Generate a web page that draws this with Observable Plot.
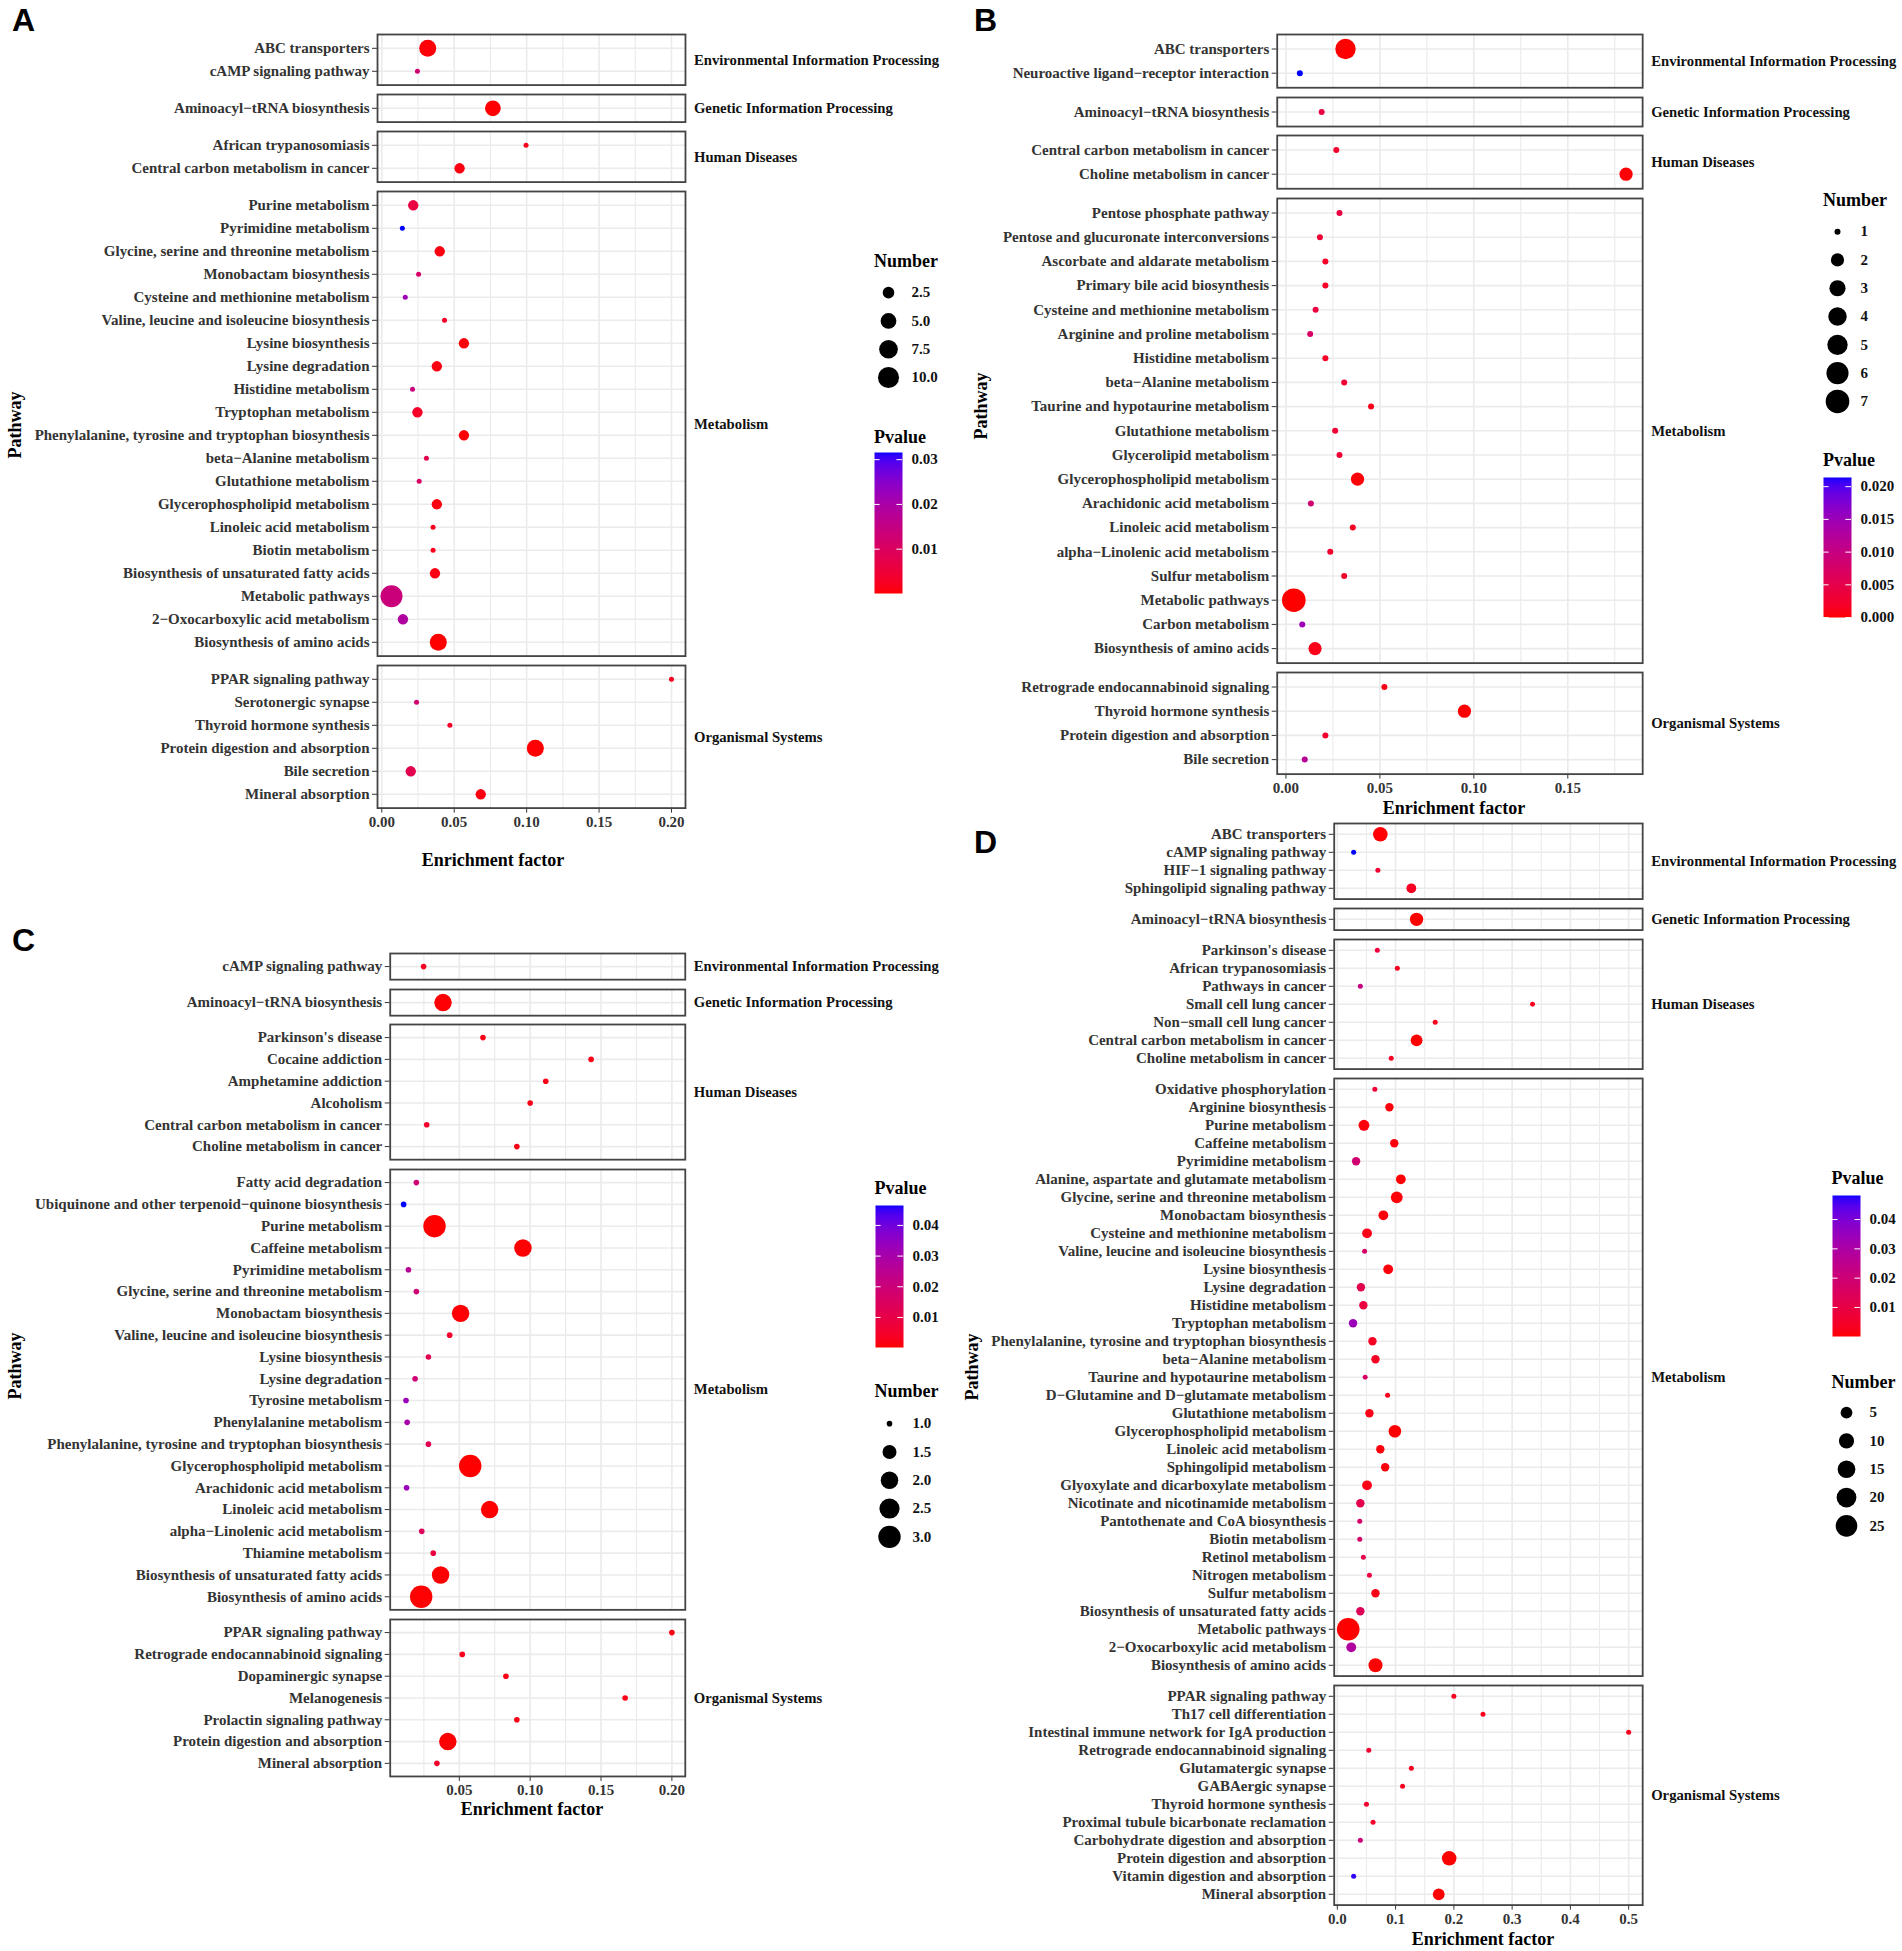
<!DOCTYPE html>
<html>
<head>
<meta charset="utf-8">
<script src="https://cdn.jsdelivr.net/npm/d3@7"></script>
<script src="https://cdn.jsdelivr.net/npm/@observablehq/plot@0.6"></script>
<style>
  body { margin: 0; background: #fff; }
  #fig { position: relative; width: 1902px; height: 1951px; background: #fff; overflow: hidden;
         font-family: "Liberation Serif", "Times New Roman", serif; }
  #fig > svg, #fig > div { position: absolute; }
  .t { position: absolute; white-space: nowrap; line-height: 1; color: #000; }
</style>
</head>
<body>
<div id="fig"></div>
<script>
// ---------------- DATA ----------------
const categories = ["Environmental Information Processing", "Genetic Information Processing", "Human Diseases", "Metabolism", "Organismal Systems"];

// Panel A
const pathwaysA = ["ABC transporters", "cAMP signaling pathway",
  "Aminoacyl−tRNA biosynthesis",
  "African trypanosomiasis", "Central carbon metabolism in cancer",
  "Purine metabolism", "Pyrimidine metabolism", "Glycine, serine and threonine metabolism", "Monobactam biosynthesis", "Cysteine and methionine metabolism", "Valine, leucine and isoleucine biosynthesis", "Lysine biosynthesis", "Lysine degradation", "Histidine metabolism", "Tryptophan metabolism", "Phenylalanine, tyrosine and tryptophan biosynthesis", "beta−Alanine metabolism", "Glutathione metabolism", "Glycerophospholipid metabolism", "Linoleic acid metabolism", "Biotin metabolism", "Biosynthesis of unsaturated fatty acids", "Metabolic pathways", "2−Oxocarboxylic acid metabolism", "Biosynthesis of amino acids",
  "PPAR signaling pathway", "Serotonergic synapse", "Thyroid hormone synthesis", "Protein digestion and absorption", "Bile secretion", "Mineral absorption"];
const groupSizesA = [2, 1, 2, 20, 6];
const enrichA = [0.0317, 0.0246, 0.0767, 0.0996, 0.0537,
  0.0217, 0.0142, 0.040, 0.0254, 0.0162, 0.0433, 0.0567, 0.038, 0.0212, 0.0246, 0.0567, 0.0308, 0.0258, 0.038, 0.0354, 0.0354, 0.0367, 0.0067, 0.0146, 0.039,
  0.2, 0.024, 0.047, 0.106, 0.020, 0.0683];
const countA = [6, 1, 5, 1, 2,
  2, 1, 2, 1, 1, 1, 2, 2, 1, 2, 2, 1, 1, 2, 1, 1, 2, 11, 2, 6,
  1, 1, 1, 6, 2, 2];
const pvalueA = [0.0005, 0.0126, 0.0002, 0.002, 0.001,
  0.006, 0.0316, 0.001, 0.011, 0.022, 0.003, 0.0005, 0.001, 0.014, 0.003, 0.0005, 0.008, 0.011, 0.001, 0.002, 0.002, 0.001, 0.014, 0.019, 0.0001,
  0.002, 0.0125, 0.003, 0.0003, 0.008, 0.001];
const xTicksA = [0, 0.05, 0.10, 0.15, 0.20];
const xMinorA = [0.025, 0.075, 0.125, 0.175];
const numberBreaksA = [2.5, 5, 7.5, 10];
const pvalueTicksA = [0.01, 0.02, 0.03];

// Panel B
const pathwaysB = ["ABC transporters", "Neuroactive ligand−receptor interaction",
  "Aminoacyl−tRNA biosynthesis",
  "Central carbon metabolism in cancer", "Choline metabolism in cancer",
  "Pentose phosphate pathway", "Pentose and glucuronate interconversions", "Ascorbate and aldarate metabolism", "Primary bile acid biosynthesis", "Cysteine and methionine metabolism", "Arginine and proline metabolism", "Histidine metabolism", "beta−Alanine metabolism", "Taurine and hypotaurine metabolism", "Glutathione metabolism", "Glycerolipid metabolism", "Glycerophospholipid metabolism", "Arachidonic acid metabolism", "Linoleic acid metabolism", "alpha−Linolenic acid metabolism", "Sulfur metabolism", "Metabolic pathways", "Carbon metabolism", "Biosynthesis of amino acids",
  "Retrograde endocannabinoid signaling", "Thyroid hormone synthesis", "Protein digestion and absorption", "Bile secretion"];
const groupSizesB = [2, 1, 2, 19, 4];
const enrichB = [0.0317, 0.0074, 0.019, 0.0268, 0.181,
  0.0285, 0.0181, 0.021, 0.021, 0.0158, 0.0129, 0.021, 0.031, 0.0453, 0.0262, 0.0285, 0.0381, 0.0133, 0.0356, 0.0236, 0.031, 0.0042, 0.0087, 0.0155,
  0.0524, 0.095, 0.021, 0.010];
const countB = [5, 1, 1, 1, 2,
  1, 1, 1, 1, 1, 1, 1, 1, 1, 1, 1, 2, 1, 1, 1, 1, 7, 1, 2,
  1, 2, 1, 1];
const pvalueB = [0.00001, 0.0214, 0.004, 0.0025, 0.0002,
  0.004, 0.003, 0.002, 0.002, 0.004, 0.0075, 0.002, 0.003, 0.001, 0.003, 0.003, 0.0003, 0.0085, 0.0015, 0.0025, 0.0025, 0.00001, 0.015, 0.001,
  0.001, 0.0001, 0.0025, 0.012];
const xTicksB = [0, 0.05, 0.10, 0.15];
const xMinorB = [0.025, 0.075, 0.125, 0.175];
const numberBreaksB = [1, 2, 3, 4, 5, 6, 7];
const pvalueTicksB = [0, 0.005, 0.010, 0.015, 0.020];

// Panel C
const pathwaysC = ["cAMP signaling pathway",
  "Aminoacyl−tRNA biosynthesis",
  "Parkinson's disease", "Cocaine addiction", "Amphetamine addiction", "Alcoholism", "Central carbon metabolism in cancer", "Choline metabolism in cancer",
  "Fatty acid degradation", "Ubiquinone and other terpenoid−quinone biosynthesis", "Purine metabolism", "Caffeine metabolism", "Pyrimidine metabolism", "Glycine, serine and threonine metabolism", "Monobactam biosynthesis", "Valine, leucine and isoleucine biosynthesis", "Lysine biosynthesis", "Lysine degradation", "Tyrosine metabolism", "Phenylalanine metabolism", "Phenylalanine, tyrosine and tryptophan biosynthesis", "Glycerophospholipid metabolism", "Arachidonic acid metabolism", "Linoleic acid metabolism", "alpha−Linolenic acid metabolism", "Thiamine metabolism", "Biosynthesis of unsaturated fatty acids", "Biosynthesis of amino acids",
  "PPAR signaling pathway", "Retrograde endocannabinoid signaling", "Dopaminergic synapse", "Melanogenesis", "Prolactin signaling pathway", "Protein digestion and absorption", "Mineral absorption"];
const groupSizesC = [1, 1, 6, 20, 7];
const enrichC = [0.0248,
  0.0385,
  0.0667, 0.143, 0.111, 0.100, 0.027, 0.0906,
  0.0197, 0.0107, 0.0325, 0.0949, 0.0141, 0.0197, 0.0509, 0.0432, 0.0282, 0.0188, 0.0124, 0.0132, 0.0282, 0.0577, 0.0128, 0.0714, 0.0235, 0.0316, 0.0368, 0.0231,
  0.200, 0.0521, 0.0829, 0.167, 0.0906, 0.0419, 0.0342];
const countC = [1,
  2,
  1, 1, 1, 1, 1, 1,
  1, 1, 3, 2, 1, 1, 2, 1, 1, 1, 1, 1, 1, 3, 1, 2, 1, 1, 2, 3,
  1, 1, 1, 1, 1, 2, 1];
const pvalueC = [0.004,
  0.0005,
  0.002, 0.002, 0.002, 0.002, 0.005, 0.002,
  0.019, 0.0465, 0.0002, 0.0005, 0.026, 0.019, 0.0005, 0.005, 0.012, 0.019, 0.033, 0.030, 0.012, 0.0003, 0.033, 0.0003, 0.014, 0.009, 0.0005, 0.0004,
  0.002, 0.003, 0.002, 0.002, 0.002, 0.0005, 0.005];
const xTicksC = [0.05, 0.10, 0.15, 0.20];
const xMinorC = [0.025, 0.075, 0.125, 0.175];
const numberBreaksC = [1, 1.5, 2, 2.5, 3];
const pvalueTicksC = [0.01, 0.02, 0.03, 0.04];

// Panel D
const pathwaysD = ["ABC transporters", "cAMP signaling pathway", "HIF−1 signaling pathway", "Sphingolipid signaling pathway",
  "Aminoacyl−tRNA biosynthesis",
  "Parkinson's disease", "African trypanosomiasis", "Pathways in cancer", "Small cell lung cancer", "Non−small cell lung cancer", "Central carbon metabolism in cancer", "Choline metabolism in cancer",
  "Oxidative phosphorylation", "Arginine biosynthesis", "Purine metabolism", "Caffeine metabolism", "Pyrimidine metabolism", "Alanine, aspartate and glutamate metabolism", "Glycine, serine and threonine metabolism", "Monobactam biosynthesis", "Cysteine and methionine metabolism", "Valine, leucine and isoleucine biosynthesis", "Lysine biosynthesis", "Lysine degradation", "Histidine metabolism", "Tryptophan metabolism", "Phenylalanine, tyrosine and tryptophan biosynthesis", "beta−Alanine metabolism", "Taurine and hypotaurine metabolism", "D−Glutamine and D−glutamate metabolism", "Glutathione metabolism", "Glycerophospholipid metabolism", "Linoleic acid metabolism", "Sphingolipid metabolism", "Glyoxylate and dicarboxylate metabolism", "Nicotinate and nicotinamide metabolism", "Pantothenate and CoA biosynthesis", "Biotin metabolism", "Retinol metabolism", "Nitrogen metabolism", "Sulfur metabolism", "Biosynthesis of unsaturated fatty acids", "Metabolic pathways", "2−Oxocarboxylic acid metabolism", "Biosynthesis of amino acids",
  "PPAR signaling pathway", "Th17 cell differentiation", "Intestinal immune network for IgA production", "Retrograde endocannabinoid signaling", "Glutamatergic synapse", "GABAergic synapse", "Thyroid hormone synthesis", "Proximal tubule bicarbonate reclamation", "Carbohydrate digestion and absorption", "Protein digestion and absorption", "Vitamin digestion and absorption", "Mineral absorption"];
const groupSizesD = [4, 1, 7, 33, 12];
const enrichD = [0.0738, 0.028, 0.0696, 0.127,
  0.136,
  0.0686, 0.103, 0.0395, 0.335, 0.168, 0.136, 0.0925,
  0.0644, 0.0894, 0.0457, 0.0977, 0.0322, 0.109, 0.102, 0.079, 0.051, 0.0468,
  0.0873, 0.0405, 0.0447, 0.027, 0.0603, 0.0655, 0.0478, 0.0863, 0.0551, 0.0988,
  0.0738, 0.0821, 0.051, 0.0395, 0.0385, 0.0385, 0.0447, 0.0551, 0.0655, 0.0395,
  0.0187, 0.0239, 0.0655,
  0.200, 0.250, 0.500, 0.054, 0.127, 0.112, 0.050, 0.0613, 0.0395, 0.192, 0.028, 0.174];
const countD = [9, 1, 1, 3,
  7,
  1, 1, 1, 1, 1, 5, 1,
  1, 2, 4, 2, 2, 3, 5, 3, 3, 1,
  3, 2, 2, 2, 2, 2, 1, 1, 2, 6,
  2, 2, 3, 2, 1, 1, 1, 1, 2, 2,
  28, 3, 8,
  1, 1, 1, 1, 1, 1, 1, 1, 1, 9, 1, 5];
const pvalueD = [0.0005, 0.0482, 0.006, 0.004,
  0.0001,
  0.008, 0.003, 0.022, 0.003, 0.003, 0.0003, 0.004,
  0.007, 0.001, 0.001, 0.001, 0.019, 0.0005, 0.0005, 0.001, 0.002, 0.017,
  0.001, 0.012, 0.009, 0.034, 0.004, 0.004, 0.017, 0.003, 0.002, 0.0002,
  0.001, 0.001, 0.002, 0.012, 0.017, 0.017, 0.012, 0.009, 0.002, 0.014,
  0.0001, 0.029, 0.0003,
  0.003, 0.003, 0.003, 0.006, 0.004, 0.004, 0.006, 0.005, 0.021, 0.0001, 0.047, 0.0002];
const xTicksD = [0, 0.1, 0.2, 0.3, 0.4, 0.5];
const xMinorD = [0.05, 0.15, 0.25, 0.35, 0.45];
const numberBreaksD = [5, 10, 15, 20, 25];
const pvalueTicksD = [0.01, 0.02, 0.03, 0.04];

// ---------------- LAYOUT ----------------
const layout = {
  A: {letter: [12, 4], x0: 0, left: 377, right: 685, top: 34, step: 23.0, gap: 9.5, mr: 262, rRange: [2.5, 11],
      xFmt: ".2f", numFmt: ".1f", pFmt: ".2f",
      xTitle: [493, 860], yTitle: [15, 425],
      numTitle: [874, 260.7], numTop: 277.5, pTitle: [874, 436.5], bar: [874, 452, 141]},
  B: {letter: [974, 4], x0: 950, left: 1276.7, right: 1642.2, top: 34, step: 24.2, gap: 9.5, mr: 258, rRange: [3, 11.8],
      xFmt: ".2f", numFmt: "d", pFmt: ".3f",
      xTitle: [1454, 808], yTitle: [981, 406],
      numTitle: [1823, 200], numTop: 216.9, pTitle: [1823, 460], bar: [1823, 477, 140]},
  C: {letter: [12, 924], x0: 0, left: 389.7, right: 684.8, top: 953, step: 21.8, gap: 9.5, mr: 262, rRange: [2.8, 11.2],
      xFmt: ".2f", numFmt: ".1f", pFmt: ".2f",
      xTitle: [532, 1809], yTitle: [15, 1366],
      numTitle: [874.5, 1391], numTop: 1408.9, pTitle: [874.5, 1188], bar: [874.5, 1205, 142]},
  D: {letter: [974, 826], x0: 950, left: 1333.7, right: 1642.2, top: 823, step: 18.0, gap: 9.5, mr: 258, rRange: [2.5, 11.3],
      xFmt: ".1f", numFmt: "d", pFmt: ".2f",
      xTitle: [1483, 1939], yTitle: [972, 1367],
      numTitle: [1831.6, 1382], numTop: 1397.9, pTitle: [1831.6, 1178], bar: [1831.6, 1195, 141]}
};

const panels = {
  A: {pathways: pathwaysA, groupSizes: groupSizesA, enrich: enrichA, count: countA, pvalue: pvalueA, xTicks: xTicksA, xMinor: xMinorA, numBreaks: numberBreaksA, pTicks: pvalueTicksA},
  B: {pathways: pathwaysB, groupSizes: groupSizesB, enrich: enrichB, count: countB, pvalue: pvalueB, xTicks: xTicksB, xMinor: xMinorB, numBreaks: numberBreaksB, pTicks: pvalueTicksB},
  C: {pathways: pathwaysC, groupSizes: groupSizesC, enrich: enrichC, count: countC, pvalue: pvalueC, xTicks: xTicksC, xMinor: xMinorC, numBreaks: numberBreaksC, pTicks: pvalueTicksC},
  D: {pathways: pathwaysD, groupSizes: groupSizesD, enrich: enrichD, count: countD, pvalue: pvalueD, xTicks: xTicksD, xMinor: xMinorD, numBreaks: numberBreaksD, pTicks: pvalueTicksD}
};

// ---------------- DRAW ----------------
const fig = document.getElementById("fig");
const SERIF = '"Liberation Serif", "Times New Roman", serif';
const baseStyle = {fontFamily: SERIF, fontSize: "15px", fontWeight: "bold", color: "#333", background: "transparent", overflow: "visible"};

function place(node, x, y) {
  node.style.position = "absolute";
  node.style.left = x + "px";
  node.style.top = y + "px";
  fig.appendChild(node);
}
function text(str, x, y, css, center) {
  const d = document.createElement("div");
  d.className = "t";
  d.textContent = str;
  Object.assign(d.style, css);
  d.style.left = x + "px";
  d.style.top = y + "px";
  if (center === "both") d.style.transform = "translate(-50%,-50%)";
  else if (center === "v") d.style.transform = "translateY(-50%)";
  else if (center === "rot") d.style.transform = "translate(-50%,-50%) rotate(-90deg)";
  fig.appendChild(d);
}

function drawPanel(key) {
  const d = panels[key], L = layout[key];
  const rows = d.pathways.map((name, i) => ({name, ef: d.enrich[i], n: d.count[i], p: d.pvalue[i]}));
  const [e0, e1] = d3.extent(d.enrich);
  const pad = (e1 - e0) * 0.05;
  const xDomain = [e0 - pad, e1 + pad];
  const pDomain = d3.extent(d.pvalue);
  const [n0, n1] = d3.extent(d.count);
  const rKey = n => 1 + Math.sqrt(Math.max(0, n - n0) / (n1 - n0));
  const rOpt = {type: "linear", domain: [1, 2], range: L.rRange, clamp: true};
  const colorOpt = {type: "linear", domain: pDomain, range: ["red", "blue"], interpolate: d3.interpolateLab};
  const minor = d.xMinor.filter(v => v >= xDomain[0] && v <= xDomain[1]);

  let start = 0, top = L.top;
  d.groupSizes.forEach((size, g) => {
    const sub = rows.slice(start, start + size);
    start += size;
    const names = sub.map(r => r.name);
    const h = L.step * (size + 0.2);
    const isLast = g === d.groupSizes.length - 1;
    const mb = isLast ? 32 : 0;
    const ml = L.left - L.x0;
    const plot = Plot.plot({
      width: ml + (L.right - L.left) + L.mr,
      height: h + mb,
      marginLeft: ml, marginRight: L.mr, marginTop: 0, marginBottom: mb,
      style: baseStyle,
      x: {domain: xDomain, axis: isLast ? "bottom" : null, ticks: d.xTicks, tickFormat: d3.format(L.xFmt), tickSize: 5, tickPadding: 3, label: null},
      y: {type: "point", domain: names, padding: 0.6, round: false, axis: "left", tickSize: 5, tickPadding: 3, label: null},
      r: rOpt,
      color: colorOpt,
      marks: [
        Plot.ruleX(minor, {stroke: "#EBEBEB", strokeWidth: 1.1}),
        Plot.ruleX(d.xTicks, {stroke: "#EBEBEB", strokeWidth: 1.6}),
        Plot.ruleY(names, {stroke: "#EBEBEB", strokeWidth: 1.6}),
        Plot.dot(sub, {x: "ef", y: "name", r: r => rKey(r.n), fill: "p"}),
        Plot.frame({stroke: "#444", strokeWidth: 1.8}),
        Plot.text([categories[g]], {frameAnchor: "right", dx: 8.5, textAnchor: "start", fontWeight: "bold", fontSize: 14.7, fill: "#111"})
      ]
    });
    place(plot, L.x0, top);
    top += h + L.gap;
  });

  // size legend
  const numFmt = d3.format(L.numFmt);
  const sizeLegend = Plot.plot({
    width: 90, height: d.numBreaks.length * 28.3,
    margin: 0,
    style: {...baseStyle, color: "#000"},
    x: {domain: [0, 1], axis: null},
    y: {type: "point", domain: d.numBreaks, padding: 0.5, round: false, axis: null},
    r: rOpt,
    marks: [
      Plot.dot(d.numBreaks, {y: v => v, r: v => rKey(v), fill: "black", frameAnchor: "left", dx: 14}),
      Plot.text(d.numBreaks, {y: v => v, text: v => numFmt(v), frameAnchor: "left", dx: 37, textAnchor: "start", fontWeight: "bold", fontSize: 15, fill: "#111"})
    ]
  });
  place(sizeLegend, L.numTitle[0], L.numTop);
  text("Number", L.numTitle[0], L.numTitle[1], {fontSize: "18px", fontWeight: "bold"}, "v");

  // colour bar
  const [bx, by, bh] = L.bar;
  const bar = Plot.plot({
    width: 28 + 60, height: bh,
    marginLeft: 0, marginRight: 60, marginTop: 0, marginBottom: 0,
    style: {...baseStyle, color: "#111"},
    x: {domain: [0, 1], axis: null},
    y: {domain: pDomain, axis: "right", ticks: d.pTicks, tickFormat: d3.format(L.pFmt), tickSize: 0, tickPadding: 9, label: null},
    color: colorOpt,
    marks: [
      Plot.raster({x1: 0, x2: 1, y1: pDomain[0], y2: pDomain[1], fill: (x, y) => y, imageRendering: "auto"}),
      Plot.ruleY(d.pTicks, {x1: 0, x2: 0.2, stroke: "white", strokeWidth: 1}),
      Plot.ruleY(d.pTicks, {x1: 0.8, x2: 1, stroke: "white", strokeWidth: 1})
    ]
  });
  place(bar, bx, by);
  text("Pvalue", L.pTitle[0], L.pTitle[1], {fontSize: "18px", fontWeight: "bold"}, "v");

  // titles
  text("Enrichment factor", L.xTitle[0], L.xTitle[1], {fontSize: "18px", fontWeight: "bold"}, "both");
  text("Pathway", L.yTitle[0], L.yTitle[1], {fontSize: "18px", fontWeight: "bold"}, "rot");
  text(key, L.letter[0], L.letter[1], {fontFamily: '"Liberation Sans", Arial, sans-serif', fontSize: "32px", fontWeight: "bold", lineHeight: "32px"}, null);
}

["A", "B", "C", "D"].forEach(drawPanel);
</script>
</body>
</html>
